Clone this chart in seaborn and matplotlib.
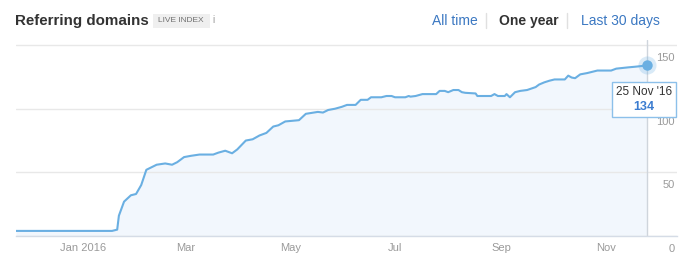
import matplotlib
matplotlib.use("Agg")
import matplotlib.pyplot as plt
import matplotlib.transforms as mtransforms
from matplotlib.offsetbox import TextArea, VPacker, AnnotationBbox
from matplotlib.patches import FancyBboxPatch
import seaborn as sns
import pandas as pd

# ---------------- data ----------------
dates = [
    "2015-11-23", "2016-01-18", "2016-01-21", "2016-01-22", "2016-01-25", "2016-01-29",
    "2016-02-01", "2016-02-04", "2016-02-07", "2016-02-10", "2016-02-13", "2016-02-18",
    "2016-02-22", "2016-02-25", "2016-02-29", "2016-03-04", "2016-03-09", "2016-03-17",
    "2016-03-20", "2016-03-24", "2016-03-28", "2016-03-31", "2016-04-05", "2016-04-09",
    "2016-04-13", "2016-04-17", "2016-04-21", "2016-04-24", "2016-04-28", "2016-05-06",
    "2016-05-10", "2016-05-17", "2016-05-20", "2016-05-23", "2016-05-27", "2016-05-31",
    "2016-06-03", "2016-06-08", "2016-06-11", "2016-06-15", "2016-06-17", "2016-06-23",
    "2016-06-26", "2016-06-29", "2016-07-01", "2016-07-07", "2016-07-09", "2016-07-10",
    "2016-07-13", "2016-07-17", "2016-07-25", "2016-07-27", "2016-07-30", "2016-08-01",
    "2016-08-04", "2016-08-07", "2016-08-09", "2016-08-11", "2016-08-17", "2016-08-18",
    "2016-08-26", "2016-08-28", "2016-08-30", "2016-09-03", "2016-09-04", "2016-09-06",
    "2016-09-09", "2016-09-12", "2016-09-16", "2016-09-21", "2016-09-23", "2016-09-26",
    "2016-09-29", "2016-10-02", "2016-10-08", "2016-10-10", "2016-10-12", "2016-10-14",
    "2016-10-17", "2016-10-21", "2016-10-27", "2016-11-04", "2016-11-07", "2016-11-14",
    "2016-11-18", "2016-11-25",
]
values = [
    4, 4, 5, 16, 27, 32,
    33, 40, 52, 54, 56, 57,
    56, 58, 62, 63, 64, 64,
    65.5, 67, 65, 68, 75, 76,
    79, 81, 86, 87, 90, 91,
    96, 97.5, 97, 99, 100, 101.5,
    103, 103, 107, 107, 109, 109,
    110, 110, 109, 109, 110, 109.5,
    110, 111.5, 111.5, 114, 114, 113,
    114.7, 114.7, 113, 112.5, 112, 110,
    110, 111.5, 110, 110, 111.5, 109,
    113, 114, 114.7, 117, 119, 120.7,
    122, 123, 123, 126, 124.5, 124,
    127, 128, 130, 130, 131.5, 132.5,
    133, 134,
]
tick_dates = ["2016-01-01", "2016-03-01", "2016-05-01", "2016-07-01", "2016-09-01", "2016-11-01"]
tick_labels = ["Jan 2016", "Mar", "May", "Jul", "Sep", "Nov"]
y_ticks = [0, 50, 100, 150]
y_tick_labels = ["0", "50", "100", "150"]
title = "Referring domains"
badge = "LIVE INDEX"
nav_items = ["All time", "One year", "Last 30 days"]
tooltip_date = "25 Nov '16"
tooltip_value = 134

# ---------------- style ----------------
line_color = "#6aafe2"
fill_color = "#f2f7fd"
grid_color = "#e8e8e8"
axis_color = "#d5dce6"
label_color = "#9a9a9a"
link_color = "#3b78c2"

sns.set_theme(style="white")
plt.rcParams["font.family"] = ["Liberation Sans", "DejaVu Sans"]

W, H = 696, 265
fig = plt.figure(figsize=(W / 100, H / 100), dpi=100)
ax = fig.add_axes([16 / W, (H - 236) / H, (677 - 16) / W, (236 - 40) / H])

df = pd.DataFrame({"date": pd.to_datetime(dates), "value": values})

ax.fill_between(df["date"], df["value"], 0, color=fill_color, lw=0, zorder=0.5)
sns.lineplot(data=df, x="date", y="value", ax=ax, color=line_color, linewidth=1.5, zorder=3)

last_date = df["date"].iloc[-1]
last_val = df["value"].iloc[-1]
ax.axvline(last_date, color="#cfd5dc", lw=1, zorder=2)
ax.plot([last_date], [last_val], "o", ms=13, color=line_color, alpha=0.25, mew=0, zorder=4)
ax.plot([last_date], [last_val], "o", ms=7.5, color=line_color, mew=0, zorder=5)

ax.set_xlim(pd.Timestamp("2015-11-23"), pd.Timestamp("2016-12-12 10:00"))
ax.set_ylim(0, 154)
ax.set_xlabel("")
ax.set_ylabel("")

ax.set_xticks(pd.to_datetime(tick_dates))
ax.set_xticklabels(tick_labels)
ax.set_yticks(y_ticks)
ax.set_yticklabels(y_tick_labels)

ax.grid(False)
ax.yaxis.grid(True, color=grid_color, lw=1)
ax.set_axisbelow(True)
for s in ["top", "left", "right"]:
    ax.spines[s].set_visible(False)
ax.spines["bottom"].set_color(axis_color)
ax.spines["bottom"].set_linewidth(1)

ax.tick_params(axis="x", direction="in", length=5, width=1, color=axis_color,
               labelcolor=label_color, labelsize=8, pad=5)
ax.yaxis.tick_right()
ax.tick_params(axis="y", length=0, labelcolor=label_color, labelsize=8, pad=-1.5)
shift = mtransforms.ScaledTranslation(0, -12 / 100, fig.dpi_scale_trans)
for lab in ax.get_yticklabels():
    lab.set_horizontalalignment("right")
    lab.set_transform(lab.get_transform() + shift)

# tooltip
ta1 = TextArea(tooltip_date, textprops=dict(color="#333333", fontsize=8.5))
ta2 = TextArea(str(tooltip_value), textprops=dict(color="#3b7cd0", fontsize=9, fontweight="bold"))
pack = VPacker(children=[ta1, ta2], align="center", pad=0, sep=2)
ab = AnnotationBbox(pack, (last_date, last_val), xybox=(-2.5, -24.5), boxcoords="offset points",
                    box_alignment=(0.5, 0.5), pad=0.25, frameon=True,
                    bboxprops=dict(edgecolor="#8cc0ea", facecolor="white", lw=1, boxstyle="square,pad=0.25"),
                    zorder=6)
ax.add_artist(ab)

# header
def fx(px):
    return px / W

def fy(py):
    return 1 - py / H

fig.text(fx(15), fy(21), title, fontsize=10.9, color="#333333", fontweight="bold",
         ha="left", va="center")
fig.patches.append(FancyBboxPatch((fx(153), fy(28)), fx(57), 14 / H, boxstyle="square,pad=0",
                                  transform=fig.transFigure, facecolor="#efefef", edgecolor="none"))
fig.text(fx(181), fy(21), badge, fontsize=6, color="#707070", ha="center", va="center")
fig.text(fx(213), fy(20), "i", fontsize=7, color="#999999", ha="center", va="center")

fig.text(fx(432), fy(21), nav_items[0], fontsize=10, color=link_color, ha="left", va="center")
fig.text(fx(499), fy(21), nav_items[1], fontsize=10, color="#333333", fontweight="bold",
         ha="left", va="center")
fig.text(fx(581), fy(21), nav_items[2], fontsize=10, color=link_color, ha="left", va="center")
for sx in [486, 567]:
    fig.add_artist(plt.Line2D([fx(sx), fx(sx)], [fy(13), fy(28)], color="#e0e0e0", lw=1,
                              transform=fig.transFigure))

fig.savefig("out.png", dpi=100, facecolor="white")
